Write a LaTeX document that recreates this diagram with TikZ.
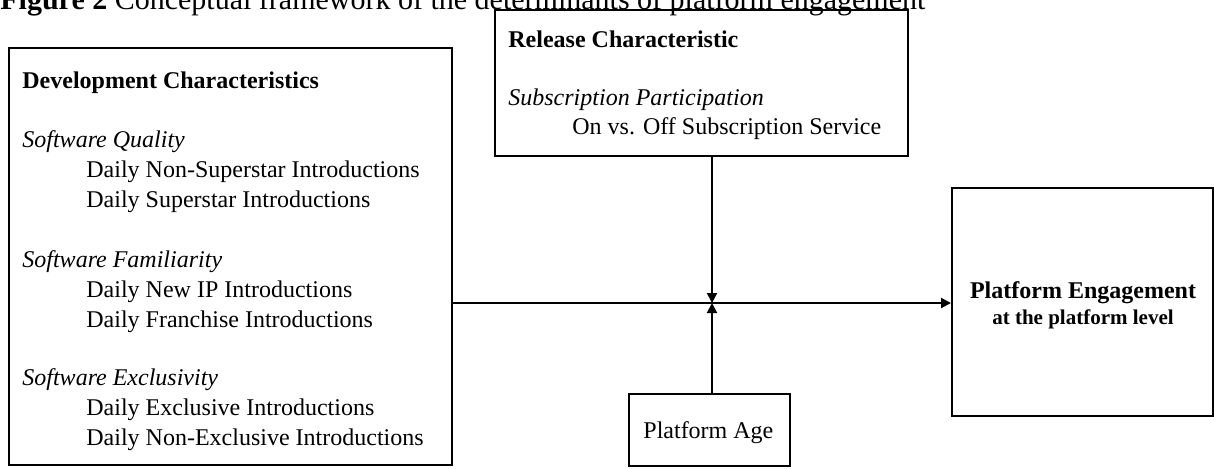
\documentclass[tikz,border=0pt]{standalone}
\usepackage{fontspec}
\setmainfont{Liberation Serif}
\usetikzlibrary{arrows.meta, positioning}

\begin{document}
\begin{tikzpicture}[x=0.5pt, y=-0.5pt, >={Triangle[length=5pt, width=5pt]},
    framebox/.style={draw, line width=1pt, inner sep=0pt},
    txt/.style={anchor=base west, inner sep=0pt, font=\fontsize{12}{14}\selectfont},
    headtxt/.style={txt, font=\fontsize{12}{14}\selectfont\bfseries},
    cattxt/.style={txt, font=\fontsize{12}{14}\selectfont\itshape}]
    \useasboundingbox (0,0) rectangle (1214,468);

    % caption (cut at the top)
    \node[anchor=base west, inner sep=0pt, font=\fontsize{15}{18}\selectfont] (caption) at (0,9)
        {\textbf{Figure 2} Conceptual framework of the determinants of platform engagement};

    % boxes
    \node[framebox, minimum width=221.5pt, minimum height=208.5pt] (dev) at (230.5,256.5) {};
    \node[framebox, minimum width=206.5pt, minimum height=73pt] (rel) at (701.5,83) {};
    \node[framebox, minimum width=130.5pt, minimum height=114pt] (eng) at (1082.5,302) {};
    \node[framebox, minimum width=80.5pt, minimum height=36pt] (age) at (709.5,430) {};
    \coordinate (jn) at (712,303);

    % development characteristics
    \node[headtxt] (devhead) at (22,88) {Development Characteristics};
    \node[cattxt] (quality) at (22,147) {Software Quality};
    \node[txt] (nonstar) at (86,177) {Daily Non-Superstar Introductions};
    \node[txt] (star) at (86,207) {Daily Superstar Introductions};
    \node[cattxt] (familiar) at (22,267) {Software Familiarity};
    \node[txt] (newip) at (86,297) {Daily New IP Introductions};
    \node[txt] (franchise) at (86,327) {Daily Franchise Introductions};
    \node[cattxt] (exclusive) at (22,385) {Software Exclusivity};
    \node[txt] (excl) at (86,415) {Daily Exclusive Introductions};
    \node[txt] (nonexcl) at (86,445) {Daily Non-Exclusive Introductions};

    % release characteristic
    \node[headtxt] (relhead) at (508,47) {Release Characteristic};
    \node[cattxt] (subscr) at (508,105) {Subscription Participation};
    \node[txt] (onoff) at (572,134) {On vs. Off Subscription Service};

    % outcome
    \node[inner sep=0pt, anchor=base, font=\fontsize{12}{14}\selectfont\bfseries] (enghead) at (1083,298) {Platform Engagement};
    \node[inner sep=0pt, anchor=base, font=\fontsize{10.5}{12}\selectfont\bfseries] (englevel) at (1083,324) {at the platform level};

    \node[txt] (agetxt) at (643,438) {Platform Age};

    % connectors
    \draw[->, line width=1pt] (dev.east |- jn) -- (jn -| eng.west);
    \draw[->, line width=1pt] (rel.south -| jn) -- (jn);
    \draw[->, line width=1pt] (age.north -| jn) -- (jn);
\end{tikzpicture}
\end{document}
